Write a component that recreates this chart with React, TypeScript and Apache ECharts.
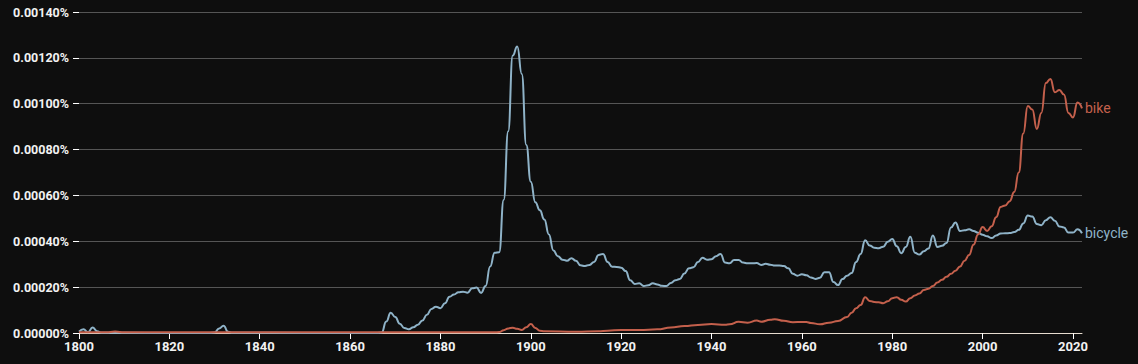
import React, { useEffect, useRef } from "react";
import * as echarts from "echarts";

const yTicks = [0, 0.0002, 0.0004, 0.0006, 0.0008, 0.001, 0.0012, 0.0014];
const xTicks = [1800, 1820, 1840, 1860, 1880, 1900, 1920, 1940, 1960, 1980, 2000, 2020];

const bicycleYears = [
  1800, 1801, 1802, 1803, 1804, 1805, 1815, 1829, 1830, 1831, 1832, 1833, 1834, 1850, 1866,
  1867, 1868, 1869, 1870, 1871, 1872, 1873, 1874, 1875, 1876, 1877, 1878, 1879, 1880,
  1881, 1882, 1883, 1884, 1885, 1886, 1887, 1888, 1889, 1890, 1891, 1892, 1893, 1894,
  1895, 1896, 1897, 1898, 1899, 1900, 1901, 1902, 1903, 1904, 1905, 1906, 1907, 1908,
  1909, 1910, 1911, 1912, 1913, 1914, 1915, 1916, 1917, 1918, 1919, 1920, 1921, 1922,
  1923, 1924, 1925, 1926, 1927, 1928, 1929, 1930, 1931, 1932, 1933, 1934, 1935, 1936,
  1937, 1938, 1939, 1940, 1941, 1942, 1943, 1944, 1945, 1946, 1947, 1948, 1949, 1950,
  1951, 1952, 1953, 1954, 1955, 1956, 1957, 1958, 1959, 1960, 1961, 1962, 1963, 1964,
  1965, 1966, 1967, 1968, 1969, 1970, 1971, 1972, 1973, 1974, 1975, 1976, 1977, 1978,
  1979, 1980, 1981, 1982, 1983, 1984, 1985, 1986, 1987, 1988, 1989, 1990, 1991, 1992,
  1993, 1994, 1995, 1996, 1997, 1998, 1999, 2000, 2001, 2002, 2003, 2004, 2005, 2006,
  2007, 2008, 2009, 2010, 2011, 2012, 2013, 2014, 2015, 2016, 2017, 2018, 2019, 2020,
  2021, 2022,
];
const bicycleValues = [
  0.000006, 0.000016, 0.000003, 0.000024, 0.000008, 0.000001, 0.0000005, 0.0000005, 0.000002, 0.00002, 0.000032, 0.000005, 0.000001, 0.0000005, 0.0000005,
  0.000002, 0.00005, 0.000088, 0.00007, 0.00004, 0.000022, 0.000016, 0.000025, 0.000036, 0.000055, 0.00008, 0.000105, 0.000115, 0.000108,
  0.00013, 0.000158, 0.000168, 0.000178, 0.00018, 0.000176, 0.000195, 0.000198, 0.000175, 0.000205, 0.00029, 0.00035, 0.000352, 0.00058,
  0.00088, 0.00121, 0.00125, 0.00113, 0.00082, 0.00066, 0.00057, 0.000535, 0.000495, 0.00043, 0.00036, 0.000335, 0.00032, 0.000315,
  0.000326, 0.000315, 0.000295, 0.000292, 0.000297, 0.00031, 0.00034, 0.000345, 0.00031, 0.000289, 0.000288, 0.000285, 0.00027, 0.00023,
  0.000214, 0.000217, 0.000205, 0.000208, 0.000217, 0.000212, 0.000206, 0.000205, 0.000218, 0.00023, 0.000236, 0.00026, 0.000282, 0.000287,
  0.00031, 0.000328, 0.00032, 0.000322, 0.000335, 0.000345, 0.000307, 0.000304, 0.000318, 0.000318, 0.000307, 0.000304, 0.000304, 0.000305,
  0.000297, 0.000302, 0.000298, 0.000294, 0.000294, 0.000292, 0.000282, 0.000258, 0.00025, 0.000256, 0.000252, 0.000242, 0.000236, 0.000241,
  0.000265, 0.000265, 0.000222, 0.000209, 0.000235, 0.00025, 0.000262, 0.00031, 0.000345, 0.000405, 0.000382, 0.000372, 0.00037, 0.000376,
  0.000398, 0.00041, 0.000378, 0.000348, 0.000375, 0.00042, 0.00035, 0.000342, 0.000357, 0.000368, 0.000425, 0.000375, 0.00038, 0.000392,
  0.00046, 0.000482, 0.000445, 0.000448, 0.000452, 0.000445, 0.000437, 0.000428, 0.000422, 0.000414, 0.000425, 0.000434, 0.000435, 0.000436,
  0.00044, 0.00045, 0.000478, 0.000512, 0.000508, 0.000475, 0.00047, 0.000492, 0.000505, 0.00049, 0.000465, 0.00046, 0.000438, 0.000438,
  0.000452, 0.000435,
];

const bikeYears = [
  1800, 1806, 1808, 1810, 1830, 1860, 1892, 1893, 1894, 1895, 1896, 1897, 1898, 1899, 1900,
  1901, 1902, 1903, 1910, 1915, 1917, 1920, 1924, 1928, 1931, 1934, 1937, 1940, 1943,
  1944, 1946, 1948, 1950, 1951, 1953, 1954, 1956, 1958, 1960, 1961, 1962, 1964, 1966,
  1968, 1970, 1971, 1972, 1973, 1974, 1975, 1976, 1977, 1978, 1979, 1980, 1981, 1982,
  1983, 1984, 1985, 1986, 1987, 1988, 1989, 1990, 1991, 1992, 1993, 1994, 1995, 1996,
  1997, 1998, 1999, 2000, 2001, 2002, 2003, 2004, 2005, 2006, 2007, 2008, 2009, 2010,
  2011, 2012, 2013, 2014, 2015, 2016, 2017, 2018, 2019, 2020, 2021, 2022,
];
const bikeValues = [
  0.000003, 0.000003, 0.000006, 0.000003, 0.000003, 0.000003, 0.000003, 0.000004, 0.000012, 0.00002, 0.000023, 0.000018, 0.000013, 0.000025, 0.000039,
  0.000022, 0.00001, 0.000008, 0.000005, 0.000008, 0.00001, 0.000013, 0.000013, 0.000016, 0.000024, 0.00003, 0.000035, 0.000039, 0.000036,
  0.000038, 0.000049, 0.000045, 0.000054, 0.000049, 0.000058, 0.00006, 0.000053, 0.000047, 0.000048, 0.000048, 0.000044, 0.000038, 0.000045,
  0.000052, 0.00007, 0.000088, 0.000108, 0.000122, 0.000156, 0.00014, 0.000135, 0.000134, 0.00013, 0.000138, 0.000152, 0.000156, 0.000145,
  0.000137, 0.000152, 0.000164, 0.000172, 0.000188, 0.000193, 0.000205, 0.00022, 0.000232, 0.000245, 0.000258, 0.000272, 0.00029, 0.000315,
  0.00034, 0.000385, 0.00043, 0.000462, 0.000445, 0.000466, 0.000505, 0.00055, 0.000556, 0.000575, 0.000615, 0.0007, 0.00087, 0.00099,
  0.000975, 0.00089, 0.00096, 0.00109, 0.001108, 0.00105, 0.00106, 0.00104, 0.00096, 0.00094, 0.001005, 0.00098,
];

const BICYCLE_COLOR = "#8fb3c8";
const BIKE_COLOR = "#c4604c";

export default function App() {
  const ref = useRef<HTMLDivElement>(null);
  useEffect(() => {
    if (!ref.current) return;
    const chart = echarts.init(ref.current, undefined, { renderer: "svg" });
    const font = "Roboto";
    const mk = (name: string, years: number[], vals: number[], color: string) => ({
      name,
      type: "line",
      data: years.map((y, i) => [y, vals[i]]),
      showSymbol: false,
      smooth: 0.5,
      smoothMonotone: "x",
      lineStyle: { color, width: 2 },
      itemStyle: { color },
      endLabel: {
        show: true,
        formatter: name,
        color,
        fontSize: 14,
        fontFamily: font,
        distance: 3,
      },
      z: name === "bike" ? 3 : 2,
    });
    chart.setOption({
      animation: false,
      backgroundColor: "#0e0e0e",
      grid: { left: 79, top: 12, width: 1003, height: 321, containLabel: false },
      xAxis: {
        type: "value",
        min: 1800,
        max: 2022,
        interval: 20,
        axisLine: { show: true, lineStyle: { color: "#e6dccf", width: 1 } },
        axisTick: { show: true, length: 6, lineStyle: { color: "#ffffff" } },
        axisLabel: {
          color: "#f2f2f2",
          fontFamily: font,
          fontWeight: "bold",
          fontSize: 13,
          margin: 7,
          showMaxLabel: false,
          formatter: (v: number) => (xTicks.includes(v) ? String(v) : ""),
        },
        splitLine: { show: false },
      },
      yAxis: {
        type: "value",
        min: yTicks[0],
        max: yTicks[yTicks.length - 1],
        interval: 0.0002,
        axisLine: { show: false },
        axisTick: { show: true, length: 6, lineStyle: { color: "#ffffff" } },
        axisLabel: {
          color: "#f2f2f2",
          fontFamily: font,
          fontWeight: "bold",
          fontSize: 12.5,
          margin: 10,
          formatter: (v: number) => v.toFixed(5) + "%",
        },
        splitLine: { show: true, lineStyle: { color: "#555555", width: 1 } },
      },
      series: [
        mk("bicycle", bicycleYears, bicycleValues, BICYCLE_COLOR),
        mk("bike", bikeYears, bikeValues, BIKE_COLOR),
      ],
    });
    return () => chart.dispose();
  }, []);
  return (
    <div
      ref={ref}
      style={{ position: "absolute", left: 0, top: 0, width: 1138, height: 364 }}
    />
  );
}
